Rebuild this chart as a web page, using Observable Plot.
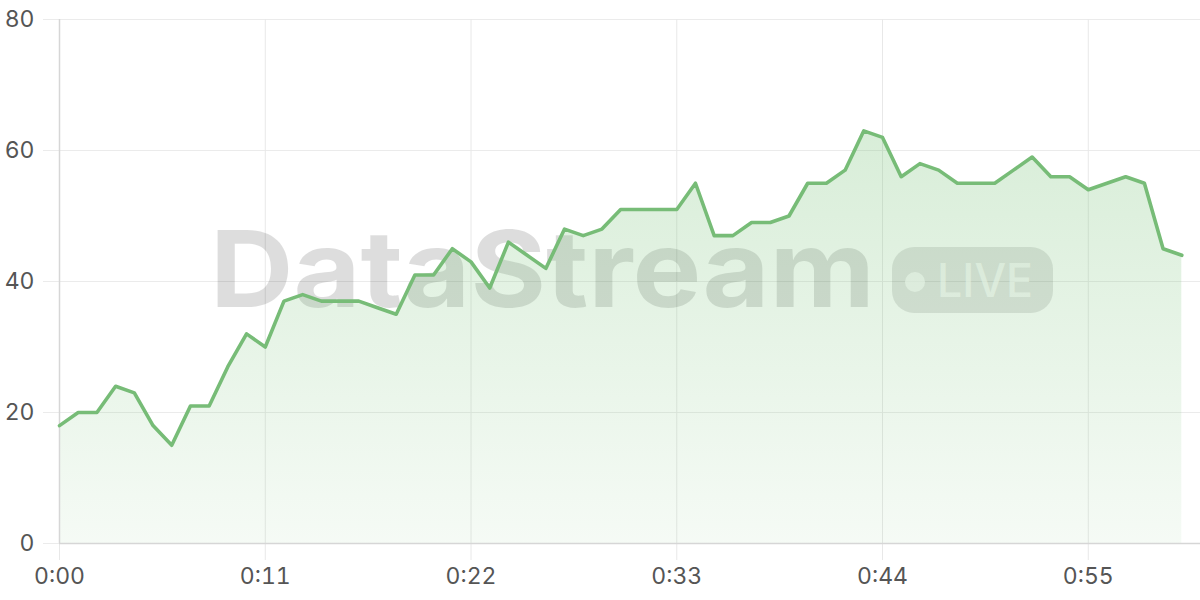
<!DOCTYPE html>
<html><head><meta charset="utf-8">
<script src="https://cdn.jsdelivr.net/npm/d3@7"></script>
<script src="https://cdn.jsdelivr.net/npm/@observablehq/plot@0.6"></script>
<style>
html,body{margin:0;padding:0;background:#fff;}
#chart{width:1200px;height:600px;}
</style></head><body><div id="chart"></div>
<script>
// Values per second (0:00 .. 1:00)
const values = [18,20,20,24,23,18,15,21,21,27,32,30,37,38,37,37,37,36,35,41,41,45,43,39,46,44,42,48,47,48,51,51,51,51,55,47,47,49,49,50,55,55,57,63,62,56,58,57,55,55,55,57,59,56,56,54,55,56,55,45,44];
const xTicks = [0, 11, 22, 33, 44, 55];
const yTicks = [0, 20, 40, 60, 80];
const watermarkText = "DataStream";
const badgeText = "LIVE";

const data = values.map((v, i) => ({t: i, v}));
const fmt = s => `${Math.floor(s / 60)}:${String(s % 60).padStart(2, "0")}`;
const NS = "http://www.w3.org/2000/svg";

function defs() {
  const d = document.createElementNS(NS, "defs");
  d.innerHTML = `<linearGradient id="areaGrad" x1="0" y1="0" x2="0" y2="1">
    <stop offset="0" stop-color="#74c074" stop-opacity="0.28"/>
    <stop offset="1" stop-color="#74c074" stop-opacity="0.07"/>
  </linearGradient>`;
  return d;
}

function watermark() {
  const g = document.createElementNS(NS, "g");
  g.innerHTML = `
    <text x="210" y="307" text-anchor="start" font-family="Inter, 'Open Sans', sans-serif" font-weight="700" font-size="106"
      textLength="665" lengthAdjust="spacingAndGlyphs" fill="#000" fill-opacity="0.135">${watermarkText}</text>
    <rect x="892" y="247" width="161" height="66" rx="22" fill="#000" fill-opacity="0.11"/>
    <circle cx="915" cy="282" r="10" fill="#fff" fill-opacity="0.7"/>
    <text x="937" y="297" text-anchor="start" font-family="Inter, 'Open Sans', sans-serif" font-weight="500" font-size="47"
      textLength="96" lengthAdjust="spacingAndGlyphs" fill="#fff" fill-opacity="0.7">${badgeText}</text>`;
  return g;
}

const chart = Plot.plot({
  width: 1200, height: 600,
  marginLeft: 59, marginRight: 0, marginTop: 19, marginBottom: 57,
  style: {fontFamily: "Inter, 'Open Sans', sans-serif", fontSize: "23px", color: "#555", background: "transparent", overflow: "visible"},
  x: {domain: [0, 61]},
  y: {domain: [0, 80]},
  marks: [
    defs,
    Plot.gridY(yTicks, {stroke: "#ebebeb", strokeOpacity: 1}),
    Plot.gridX(xTicks, {stroke: "#e8e8e8", strokeOpacity: 1}),
    Plot.axisY(yTicks, {tickSize: 16, tickPadding: 9, stroke: "#ebebeb", fill: "#555", label: null}),
    Plot.axisX(xTicks, {tickSize: 17, tickPadding: 7, stroke: "#e8e8e8", fill: "#555", tickFormat: fmt, label: null}),
    watermark,
    Plot.areaY(data, {x: "t", y: "v", fill: "url(#areaGrad)"}),
    Plot.ruleY([0], {stroke: "#d6d6d6", strokeWidth: 1.5}),
    Plot.ruleX([0], {stroke: "#d6d6d6", strokeWidth: 1.5, y1: 80, y2: 0}),
    Plot.lineY(data, {x: "t", y: "v", stroke: "#77bc77", strokeWidth: 3.6, strokeLinejoin: "round"})
  ]
});
document.getElementById("chart").appendChild(chart);
</script>
</body></html>
